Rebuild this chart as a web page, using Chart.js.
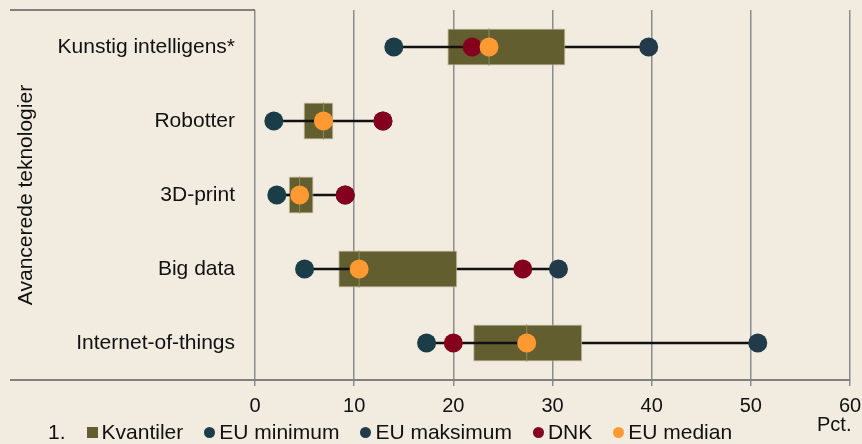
<!DOCTYPE html>
<html>
<head>
<meta charset="utf-8">
<script src="https://cdn.jsdelivr.net/npm/chart.js@4.4.1/dist/chart.umd.min.js"></script>
<style>
  html, body { margin: 0; padding: 0; background: #f1ebe0; }
  #wrap { position: relative; width: 862px; height: 444px; overflow: hidden; }
  #legend {
    position: absolute; left: 48px; top: 420px; height: 24px;
    display: flex; align-items: center; white-space: nowrap;
    font: 21px "Liberation Sans", Arial, sans-serif; color: #111;
  }
  #legend .item { display: flex; align-items: center; margin-left: 21px; }
  #legend .mark { display: inline-block; width: 11px; height: 11px; margin-right: 4px; }
  #legend .mark.circle { border-radius: 50%; }
  #unit {
    position: absolute; left: 817px; top: 413px;
    font: 20px "Liberation Sans", Arial, sans-serif; color: #111;
  }
</style>
</head>
<body>
<div id="wrap">
  <canvas id="chart" width="862" height="444"></canvas>
  <div id="legend"><span>1.</span></div>
  <div id="unit">Pct.</div>
</div>
<script>
// Andel virksomheder (pct.) der bruger avancerede teknologier
const categories = ['Kunstig intelligens*', 'Robotter', '3D-print', 'Big data', 'Internet-of-things'];
const q1       = [19.4, 4.9, 3.4, 8.4, 22.0];
const q3       = [31.3, 7.9, 5.9, 20.4, 33.0];
const euMin    = [14.0, 1.9, 2.2, 5.0, 17.3];
const euMax    = [39.7, 12.9, 9.1, 30.6, 50.7];
const dnk      = [21.9, 12.9, 9.1, 27.0, 20.0];
const euMedian = [23.6, 6.9, 4.5, 10.5, 27.4];

const boxColor = '#625e2f';
const minColor = '#1b3d48';
const maxColor = '#223a4a';
const dnkColor = '#85001c';
const medColor = '#ff9a33';
const font = '"Liberation Sans", Arial, sans-serif';

function dots(label, data, color, order) {
    return {
        type: 'line',
        label: label,
        data: data,
        showLine: false,
        pointRadius: 9.5,
        pointHoverRadius: 9.5,
        pointBackgroundColor: color,
        pointBorderWidth: 0,
        backgroundColor: color,
        order: order,
        legendShape: 'circle'
    };
}

// frame lines left of / below the plot area
const framePlugin = {
    id: 'frame',
    afterDraw(chart) {
        const ctx = chart.ctx;
        const area = chart.chartArea;
        ctx.save();
        ctx.strokeStyle = '#808080';
        ctx.lineWidth = 2;
        ctx.beginPath();
        ctx.moveTo(10, area.top);
        ctx.lineTo(area.left, area.top);
        ctx.moveTo(10, area.bottom);
        ctx.lineTo(area.right, area.bottom);
        ctx.stroke();
        ctx.restore();
    }
};

const chart = new Chart(document.getElementById('chart'), {
    type: 'bar',
    data: {
        labels: categories,
        datasets: [
            {
                label: 'whisker-high',
                data: euMedian.map((m, i) => [m, euMax[i]]),
                backgroundColor: '#111',
                barThickness: 2,
                grouped: false,
                order: 10
            },
            {
                label: 'Kvantiler',
                data: q1.map((v, i) => [v, q3[i]]),
                backgroundColor: boxColor,
                borderColor: '#c8c1a0',
                borderWidth: 1,
                borderSkipped: false,
                barPercentage: 0.5,
                categoryPercentage: 1,
                grouped: false,
                order: 9,
                legendShape: 'square'
            },
            {
                label: 'whisker-low',
                data: euMin.map((v, i) => [v, euMedian[i]]),
                backgroundColor: '#111',
                barThickness: 2,
                grouped: false,
                order: 8
            },
            {
                // thin light median stroke inside the box
                label: 'median-line',
                data: euMedian.map(m => [m - 0.05, m + 0.05]),
                backgroundColor: '#8e8a5c',
                barPercentage: 0.5,
                categoryPercentage: 1,
                grouped: false,
                order: 7
            },
            dots('EU minimum', euMin, minColor, 5),
            dots('EU maksimum', euMax, maxColor, 4),
            dots('DNK', dnk, dnkColor, 3),
            dots('EU median', euMedian, medColor, 2)
        ]
    },
    options: {
        indexAxis: 'y',
        responsive: false,
        animation: false,
        layout: { padding: { top: 10, right: 12, left: 0, bottom: 0 } },
        plugins: {
            legend: { display: false },
            tooltip: { enabled: false }
        },
        scales: {
            y: {
                type: 'category',
                grid: { display: false, drawTicks: false },
                border: { display: false },
                ticks: { color: '#111', font: { family: font, size: 21 }, padding: 20 },
                title: {
                    display: true,
                    text: 'Avancerede teknologier',
                    color: '#111',
                    font: { family: font, size: 21 },
                    padding: { top: 14, bottom: 0 }
                },
                afterFit(scale) {
                    scale.width = 255;
                    scale.paddingTop = 0;
                    scale.paddingBottom = 0;
                }
            },
            x: {
                type: 'linear',
                min: 0,
                max: 60,
                grid: { color: '#8c8c8c', lineWidth: 1.5, drawTicks: true, tickLength: 6 },
                border: { display: true, color: '#808080', width: 2 },
                ticks: { stepSize: 10, color: '#111', font: { family: font, size: 20 }, padding: 8, maxRotation: 0 },
                afterFit(scale) {
                    scale.height = 64;
                    scale.paddingLeft = 0;
                    scale.paddingRight = 0;
                }
            }
        }
    },
    plugins: [framePlugin]
});

// legend built from the chart's own datasets
const legend = document.getElementById('legend');
chart.data.datasets.filter(d => d.legendShape).forEach(d => {
    const item = document.createElement('span');
    item.className = 'item';
    const mark = document.createElement('span');
    mark.className = 'mark' + (d.legendShape === 'circle' ? ' circle' : '');
    mark.style.background = d.backgroundColor;
    item.appendChild(mark);
    item.appendChild(document.createTextNode(d.label));
    legend.appendChild(item);
});
</script>
</body>
</html>
